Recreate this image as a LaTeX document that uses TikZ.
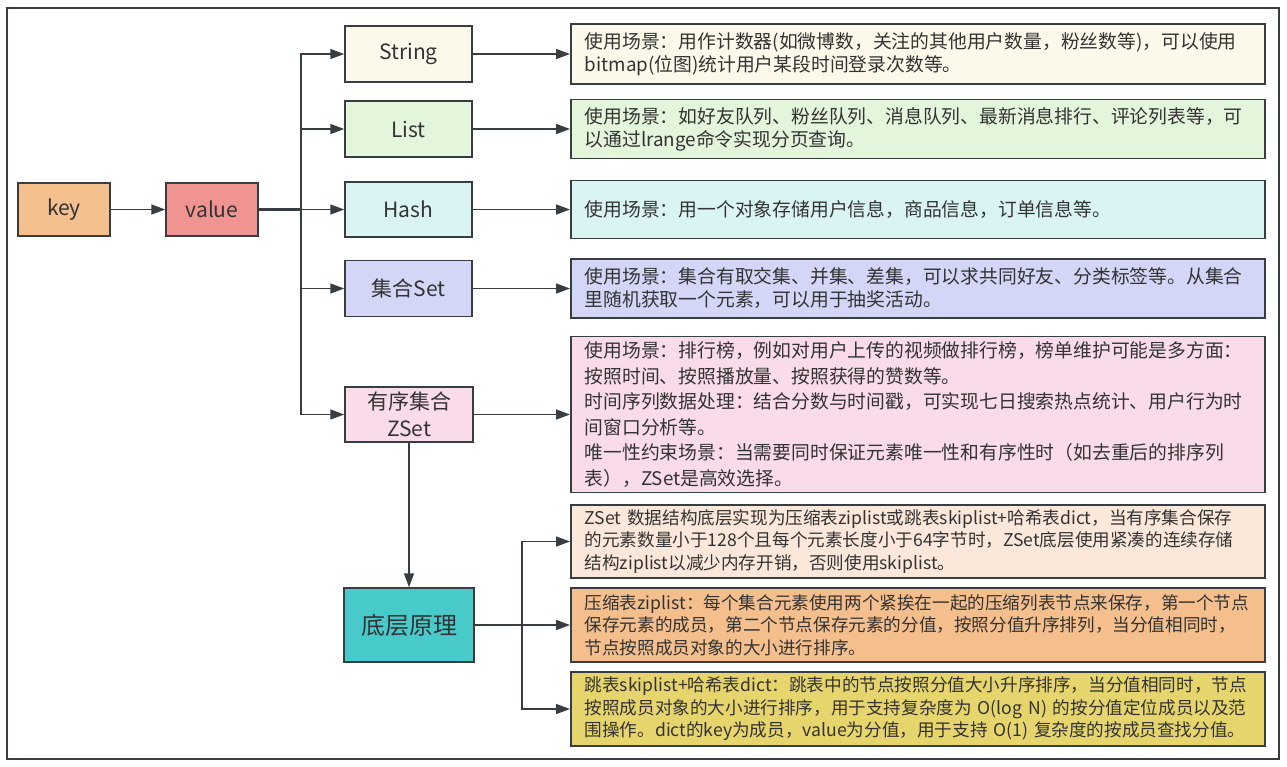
\documentclass[tikz,border=0pt]{standalone}
\usepackage{fontspec}
\setmainfont{Noto Sans CJK SC}
\usetikzlibrary{arrows.meta}
\definecolor{bordc}{HTML}{383D42}
\definecolor{txtc}{HTML}{333333}
\definecolor{keyc}{HTML}{F4C18E}
\definecolor{valc}{HTML}{F09492}
\definecolor{strc}{HTML}{FCF9EA}
\definecolor{listc}{HTML}{E3F5DA}
\definecolor{hashc}{HTML}{DAF4F4}
\definecolor{setc}{HTML}{D3D6F7}
\definecolor{zsetc}{HTML}{F9DBEA}
\definecolor{basec}{HTML}{48CACB}
\definecolor{dsixc}{HTML}{FBE8DA}
\definecolor{dsevc}{HTML}{F4BF8D}
\definecolor{deigc}{HTML}{E6D56C}
\begin{document}
\begin{tikzpicture}[x=1pt,y=-1pt,
  typebox/.style={draw=bordc, line width=1.5pt, inner sep=0pt, text=txtc, align=center,
    font=\fontsize{21}{27}\selectfont},
  descbox/.style={draw=bordc, line width=1.5pt, anchor=west, inner xsep=14pt, inner ysep=0pt,
    text width=666pt, align=left, text=txtc, font=\fontsize{18.8}{23}\selectfont},
  smalldesc/.style={font=\fontsize{17.6}{22.5}\selectfont},
  arr/.style={draw=bordc, line width=1.5pt, -{Triangle[length=14pt,width=10pt]}},
  trunk/.style={draw=bordc, line width=2.8pt},
  frame/.style={draw=bordc, line width=2pt}]
\useasboundingbox (0,0) rectangle (1287,766);
\fill[white] (0,0) rectangle (1287,766);
\draw[frame] (7,8) rectangle (1279,759);

% left nodes
\node[typebox, fill=keyc, minimum width=92pt, minimum height=53pt] (key) at (64,209.5) {key};
\node[typebox, fill=valc, minimum width=92pt, minimum height=53pt] (value) at (212,209.5) {value};

% type nodes
\node[typebox, fill=strc, minimum width=127pt, minimum height=56pt] (string) at (408.5,54) {String};
\node[typebox, fill=listc, minimum width=127pt, minimum height=56pt] (list) at (408.5,129) {List};
\node[typebox, fill=hashc, minimum width=127pt, minimum height=55pt] (hash) at (408.5,209.5) {Hash};
\node[typebox, fill=setc, minimum width=127pt, minimum height=56pt] (set) at (408.5,288.5) {集合Set};
\node[typebox, fill=zsetc, minimum width=128pt, minimum height=55pt] (zset) at (409,414.5) {有序集合\\ZSet};
\node[typebox, fill=basec, minimum width=130pt, minimum height=74pt, font=\fontsize{24}{28}\selectfont] (base) at (409,625) {底层原理};

% description boxes
\node[descbox, fill=strc, minimum height=60pt] (d1) at (570,54) {\mbox{使用场景：用作计数器(如微博数，关注的其他用户数量，粉丝数等)，可以使用}\\\mbox{bitmap(位图)统计用户某段时间登录次数等。}};
\node[descbox, fill=listc, minimum height=59pt] (d2) at (570,129) {\mbox{使用场景：如好友队列、粉丝队列、消息队列、最新消息排行、评论列表等，可}\\\mbox{以通过lrange命令实现分页查询。}};
\node[descbox, fill=hashc, minimum height=58pt] (d3) at (570,209.5) {\mbox{使用场景：用一个对象存储用户信息，商品信息，订单信息等。}};
\node[descbox, fill=setc, minimum height=59pt] (d4) at (570,288.5) {\mbox{使用场景：集合有取交集、并集、差集，可以求共同好友、分类标签等。从集合}\\\mbox{里随机获取一个元素，可以用于抽奖活动。}};
\node[descbox, fill=zsetc, minimum height=156pt, font=\fontsize{18.8}{25.5}\selectfont] (d5) at (570,414.5) {\mbox{使用场景：排行榜，例如对用户上传的视频做排行榜，榜单维护可能是多方面：}\\\mbox{按照时间、按照播放量、按照获得的赞数等。}\\\mbox{时间序列数据处理：结合分数与时间戳，可实现七日搜索热点统计、用户行为时}\\\mbox{间窗口分析等。}\\\mbox{唯一性约束场景：当需要同时保证元素唯一性和有序性时（如去重后的排序列}\\\mbox{表），ZSet是高效选择。}};
\node[descbox, smalldesc, fill=dsixc, minimum height=73pt] (d6) at (570,541.5) {\mbox{ZSet 数据结构底层实现为压缩表ziplist或跳表skiplist+哈希表dict，当有序集合保存}\\\mbox{的元素数量小于128个且每个元素长度小于64字节时，ZSet底层使用紧凑的连续存储}\\\mbox{结构ziplist以减少内存开销，否则使用skiplist。}};
\node[descbox, smalldesc, fill=dsevc, minimum height=74pt] (d7) at (570,625) {\mbox{压缩表ziplist：每个集合元素使用两个紧挨在一起的压缩列表节点来保存，第一个节点}\\\mbox{保存元素的成员，第二个节点保存元素的分值，按照分值升序排列，当分值相同时，}\\\mbox{节点按照成员对象的大小进行排序。}};
\node[descbox, smalldesc, fill=deigc, minimum height=74pt] (d8) at (570,709) {\mbox{跳表skiplist+哈希表dict：跳表中的节点按照分值大小升序排序，当分值相同时，节点}\\\mbox{按照成员对象的大小进行排序，用于支持复杂度为 O(log N) 的按分值定位成员以及范}\\\mbox{围操作。dict的key为成员，value为分值，用于支持 O(1) 复杂度的按成员查找分值。}};

% connectors
\coordinate (tr) at (301,209.5);
\coordinate (fk) at (522,625);
\draw[trunk] (value.east) -- (tr);
\draw[trunk] (base.east) -- (fk);
\draw[arr] (key) -- (value);
\draw[arr] (value.east) -- (tr) |- (string.west);
\draw[arr] (value.east) -- (tr) |- (list.west);
\draw[arr] (value.east) -- (hash.west);
\draw[arr] (value.east) -- (tr) |- (set.west);
\draw[arr] (value.east) -- (tr) |- (zset.west);
\draw[arr] (string.east) -- (d1.west);
\draw[arr] (list.east) -- (d2.west);
\draw[arr] (hash.east) -- (d3.west);
\draw[arr] (set.east) -- (d4.west);
\draw[arr] (zset.east) -- (d5.west);
\draw[arr] (zset.south) -- (base.north);
\draw[arr] (base.east) -- (fk) |- (d6.west);
\draw[arr] (base.east) -- (d7.west);
\draw[arr] (base.east) -- (fk) |- (d8.west);
\end{tikzpicture}
\end{document}
